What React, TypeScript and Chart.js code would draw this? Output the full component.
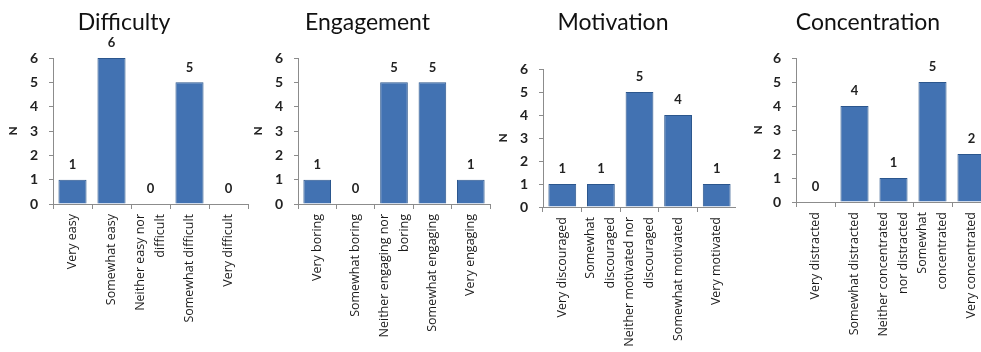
import React, { useEffect, useRef } from "react";
import { Chart, registerables } from "chart.js";

Chart.register(...registerables);

const difficultyLabels = [["Very easy"], ["Somewhat easy"], ["Neither easy nor", "difficult"], ["Somewhat difficult"], ["Very difficult"]];
const difficultyValues = [1, 6, 0, 5, 0];

const engagementLabels = [["Very boring"], ["Somewhat boring"], ["Neither engaging nor", "boring"], ["Somewhat engaging"], ["Very engaging"]];
const engagementValues = [1, 0, 5, 5, 1];

const motivationLabels = [["Very discouraged"], ["Somewhat", "discouraged"], ["Neither motivated nor", "discouraged"], ["Somewhat motivated"], ["Very motivated"]];
const motivationValues = [1, 1, 5, 4, 1];

const concentrationLabels = [["Very distracted"], ["Somewhat distracted"], ["Neither concentrated", "nor distracted"], ["Somewhat", "concentrated"], ["Very concentrated"]];
const concentrationValues = [0, 4, 1, 5, 2];

const yTicks = [0, 1, 2, 3, 4, 5, 6];

const FONT = "Lato, 'Open Sans', sans-serif";
const LABEL_FONT = "'Open Sans', 'Noto Sans', sans-serif";

const valueLabels = {
  id: "valueLabels",
  afterDatasetsDraw(chart: any) {
    const { ctx } = chart;
    const meta = chart.getDatasetMeta(0);
    const data = chart.data.datasets[0].data;
    ctx.save();
    ctx.font = `bold 13px ${FONT}`;
    ctx.fillStyle = "#222";
    ctx.textAlign = "center";
    ctx.textBaseline = "middle";
    meta.data.forEach((bar: any, i: number) => {
      ctx.fillText(String(data[i]), bar.x, bar.y - 15);
    });
    ctx.restore();
  },
};

// Draws the category labels rotated -90°, multi-line labels centred on their tick.
const categoryLabels = {
  id: "categoryLabels",
  afterDraw(chart: any) {
    const { ctx } = chart;
    const xs = chart.scales.x;
    const labels = chart.data.labels as string[][];
    const lineGap = 20;
    ctx.save();
    ctx.font = `12.5px ${LABEL_FONT}`;
    ctx.fillStyle = "#1a1a1a";
    ctx.textAlign = "right";
    ctx.textBaseline = "middle";
    labels.forEach((lines, i) => {
      const x = xs.getPixelForTick(i);
      const y0 = xs.top + 10;
      const n = lines.length;
      lines.forEach((line, j) => {
        const dx = (j - (n - 1) / 2) * lineGap;
        ctx.save();
        ctx.translate(x + dx, y0);
        ctx.rotate(-Math.PI / 2);
        ctx.fillText(line, 0, 0);
        ctx.restore();
      });
    });
    ctx.restore();
  },
};

type Panel = {
  title: string;
  labels: string[][];
  values: number[];
  left: number;
  width: number;
  areaLeft: number;
  areaRight: number;
  areaTop: number;
  areaBottom: number;
};

const panels: Panel[] = [
  { title: "Difficulty", labels: difficultyLabels, values: difficultyValues, left: 0, width: 250, areaLeft: 53, areaRight: 248, areaTop: 58, areaBottom: 204 },
  { title: "Engagement", labels: engagementLabels, values: engagementValues, left: 245, width: 250, areaLeft: 53, areaRight: 245, areaTop: 58, areaBottom: 204 },
  { title: "Motivation", labels: motivationLabels, values: motivationValues, left: 490, width: 246, areaLeft: 53, areaRight: 246, areaTop: 69, areaBottom: 207 },
  { title: "Concentration", labels: concentrationLabels, values: concentrationValues, left: 745, width: 246, areaLeft: 51, areaRight: 246, areaTop: 58, areaBottom: 202 },
];

const H = 352;

function BarPanel({ p }: { p: Panel }) {
  const ref = useRef<HTMLCanvasElement>(null);
  useEffect(() => {
    if (!ref.current) return;
    const titleFontSize = 23;
    const titleTop = 9;
    const titleBlock = titleFontSize * 1.2 + titleTop;
    const chart = new Chart(ref.current, {
      type: "bar",
      data: {
        labels: p.labels as any,
        datasets: [
          {
            data: p.values,
            backgroundColor: "#4272B2",
            borderColor: "#2B568D",
            borderWidth: 1,
            categoryPercentage: 1,
            barPercentage: 0.72,
          },
        ],
      },
      options: {
        responsive: false,
        animation: false,
        layout: { padding: { left: 0, right: p.width - p.areaRight, top: 0, bottom: 0 } },
        plugins: {
          legend: { display: false },
          tooltip: { enabled: false },
          title: {
            display: true,
            text: p.title,
            color: "#111",
            font: { family: FONT, size: titleFontSize, weight: "normal" as any, lineHeight: 1.2 },
            padding: { top: titleTop, bottom: p.areaTop - titleBlock },
          },
        },
        scales: {
          x: {
            afterFit: (s: any) => {
              s.height = H - p.areaBottom;
            },
            grid: { display: true, drawOnChartArea: false, drawTicks: true, tickLength: 5, color: "#8c8c8c", offset: true },
            border: { color: "#8c8c8c", width: 1 },
            ticks: { display: false, autoSkip: false },
          },
          y: {
            min: 0,
            max: 6,
            afterFit: (s: any) => {
              s.width = p.areaLeft;
            },
            afterBuildTicks: (s: any) => {
              s.ticks = yTicks.map((v) => ({ value: v }));
            },
            grid: { display: true, drawOnChartArea: false, drawTicks: true, tickLength: 4, color: "#8c8c8c" },
            border: { color: "#8c8c8c", width: 1 },
            ticks: {
              padding: 11,
              color: "#222",
              font: { family: FONT, size: 14, weight: "bold" as any },
            },
            title: {
              display: true,
              text: "N",
              color: "#222",
              font: { family: FONT, size: 12, weight: "bold" as any, lineHeight: 1.2 },
              padding: { top: 6, bottom: 0 },
            },
          },
        },
      },
      plugins: [valueLabels, categoryLabels],
    });
    return () => chart.destroy();
  }, [p]);
  return (
    <canvas
      ref={ref}
      width={p.width}
      height={H}
      style={{ position: "absolute", left: p.left, top: 0, width: p.width, height: H }}
    />
  );
}

export default function App() {
  return (
    <div
      style={{
        position: "fixed",
        left: 0,
        top: 0,
        width: 981,
        height: H,
        overflow: "hidden",
        background: "#fff",
      }}
    >
      {panels.map((p) => (
        <BarPanel key={p.title} p={p} />
      ))}
    </div>
  );
}
